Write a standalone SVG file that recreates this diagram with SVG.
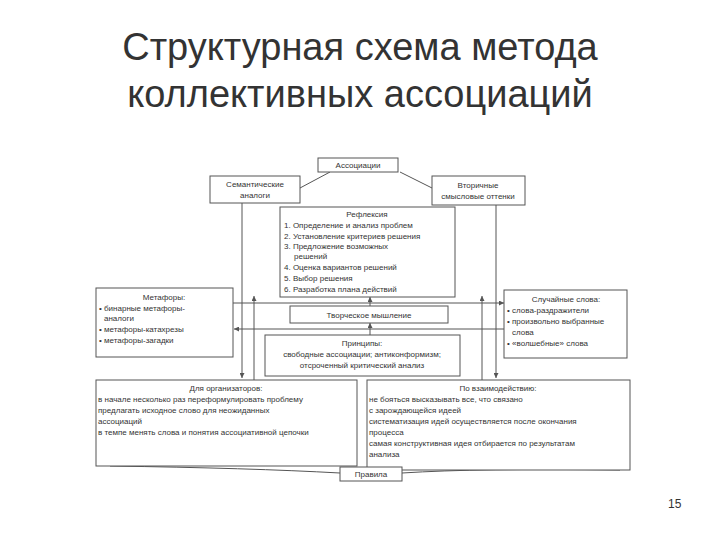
<svg xmlns="http://www.w3.org/2000/svg" width="720" height="540" viewBox="0 0 720 540">
<style>
.t{font-family:"Liberation Sans",Arial,sans-serif;font-size:8px;fill:#333}
.b{fill:#fff;stroke:#555;stroke-width:1}
.l{stroke:#555;stroke-width:1;fill:none}
.h{font-family:"Liberation Sans",Arial,sans-serif;font-size:38px;fill:#333;text-anchor:middle}
</style>
<defs><marker id="a" viewBox="0 0 6 6" refX="6" refY="3" markerWidth="5" markerHeight="5" orient="auto"><path d="M0,0L6,3L0,6z" fill="#555"/></marker></defs>
<rect width="720" height="540" fill="#fff"/>
<text class="h" x="360" y="60">Структурная схема метода</text>
<text class="h" x="360" y="107">коллективных ассоциаций</text>
<g id="connectors">
<path class="l" d="M330,172L300,188M400,172L432,188"/>
<path class="l" d="M242,203V378" marker-end="url(#a)"/>
<path class="l" d="M254,380V296" marker-end="url(#a)"/>
<path class="l" d="M496,205V378" marker-end="url(#a)"/>
<path class="l" d="M482,380V296" marker-end="url(#a)"/>
<path class="l" d="M233,303H504" marker-end="url(#a)"/>
<path class="l" d="M504,329H234" marker-end="url(#a)"/>
<path class="l" d="M370,306V297" marker-end="url(#a)"/>
<path class="l" d="M370,335V323" marker-end="url(#a)"/>
<path class="l" d="M110,466Q250,468 340,473M620,470Q480,468 402,473"/>
</g>
<g id="n1"><rect class="b" x="318" y="158" width="80" height="14"/><text class="t" x="358" y="168" text-anchor="middle">Ассоциации</text></g>
<g id="n2"><rect class="b" x="210" y="176" width="90" height="27"/><text class="t" x="255" y="187" text-anchor="middle">Семантические</text><text class="t" x="255" y="198" text-anchor="middle">аналоги</text></g>
<g id="n3"><rect class="b" x="432" y="176" width="93" height="29"/><text class="t" x="478" y="188" text-anchor="middle">Вторичные</text><text class="t" x="478" y="199" text-anchor="middle">смысловые оттенки</text></g>
<g id="n4"><rect class="b" x="280" y="207" width="175" height="90"/>
<text class="t" x="367" y="217" text-anchor="middle">Рефлексия</text>
<text class="t" x="284" y="228">1. Определение и анализ проблем</text>
<text class="t" x="284" y="239">2. Установление критериев решения</text>
<text class="t" x="284" y="249">3. Предложение возможных</text>
<text class="t" x="294" y="259">решений</text>
<text class="t" x="284" y="270">4. Оценка вариантов решений</text>
<text class="t" x="284" y="281">5. Выбор решения</text>
<text class="t" x="284" y="292">6. Разработка плана действий</text></g>
<g id="n5"><rect class="b" x="96" y="288" width="137" height="69"/>
<text class="t" x="164" y="300" text-anchor="middle">Метафоры:</text>
<text class="t" x="99" y="311">• бинарные метафоры-</text>
<text class="t" x="104" y="321">аналоги</text>
<text class="t" x="99" y="332">• метафоры-катахрезы</text>
<text class="t" x="99" y="343">• метафоры-загадки</text></g>
<g id="n6"><rect class="b" x="290" y="306" width="158" height="17"/><text class="t" x="369" y="318" text-anchor="middle">Творческое мышление</text></g>
<g id="n7"><rect class="b" x="265" y="335" width="195" height="41"/>
<text class="t" x="362" y="346" text-anchor="middle">Принципы:</text>
<text class="t" x="362" y="357" text-anchor="middle">свободные ассоциации; антиконформизм;</text>
<text class="t" x="362" y="368" text-anchor="middle">отсроченный критический анализ</text></g>
<g id="n8"><rect class="b" x="504" y="290" width="123" height="68"/>
<text class="t" x="566" y="302" text-anchor="middle">Случайные слова:</text>
<text class="t" x="507" y="313">• слова-раздражители</text>
<text class="t" x="507" y="324">• произвольно выбранные</text>
<text class="t" x="512" y="335">слова</text>
<text class="t" x="507" y="346">• «волшебные» слова</text></g>
<g id="n9"><rect class="b" x="96" y="380" width="261" height="86"/>
<text class="t" x="226" y="391" text-anchor="middle">Для организаторов:</text>
<text class="t" x="98" y="402">в начале несколько раз переформулировать проблему</text>
<text class="t" x="98" y="413">предлагать исходное слово для неожиданных</text>
<text class="t" x="98" y="424">ассоциаций</text>
<text class="t" x="98" y="435">в темпе менять слова и понятия ассоциативной цепочки</text></g>
<g id="n10"><rect class="b" x="367" y="380" width="263" height="90"/>
<text class="t" x="498" y="391" text-anchor="middle">По взаимодействию:</text>
<text class="t" x="369" y="402">не бояться высказывать все, что связано</text>
<text class="t" x="369" y="413">с зарождающейся идеей</text>
<text class="t" x="369" y="424">систематизация идей осуществляется после окончания</text>
<text class="t" x="369" y="435">процесса</text>
<text class="t" x="369" y="446">самая конструктивная идея отбирается по результатам</text>
<text class="t" x="369" y="457">анализа</text></g>
<g id="n11"><rect class="b" x="340" y="467" width="62" height="14"/><text class="t" x="371" y="477" text-anchor="middle">Правила</text></g>
<text x="668" y="508" font-family="Liberation Sans,Arial,sans-serif" font-size="12" fill="#333">15</text>
</svg>
